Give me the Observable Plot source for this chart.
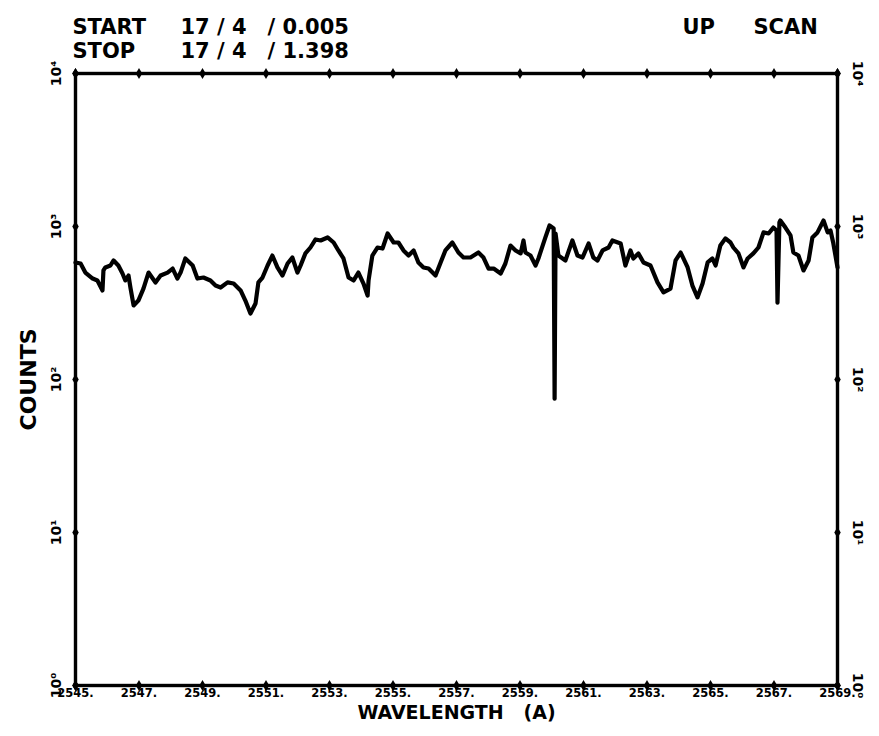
<!DOCTYPE html>
<html>
<head>
<meta charset="utf-8">
<script src="https://cdn.jsdelivr.net/npm/d3@7"></script>
<script src="https://cdn.jsdelivr.net/npm/@observablehq/plot@0.6"></script>
<style>
  html, body { margin: 0; padding: 0; background: #fff; }
  svg { font-family: "DejaVu Sans", sans-serif; }
</style>
</head>
<body>
<div id="chart"></div>
<script>
// Wavelength (Å) and counts
const wavelength = [
  2545.00, 2545.16, 2545.31, 2545.54, 2545.69, 2545.85, 2545.88, 2545.94, 2546.10, 2546.20,
  2546.35, 2546.48, 2546.57, 2546.67, 2546.73, 2546.83, 2546.98, 2547.14, 2547.30, 2547.52,
  2547.68, 2547.90, 2548.06, 2548.21, 2548.31, 2548.46, 2548.69, 2548.84, 2549.03, 2549.25,
  2549.41, 2549.57, 2549.79, 2549.98, 2550.20, 2550.35, 2550.51, 2550.67, 2550.76, 2550.89,
  2551.05, 2551.20, 2551.36, 2551.52, 2551.68, 2551.83, 2551.99, 2552.09, 2552.24, 2552.40,
  2552.56, 2552.72, 2552.94, 2553.13, 2553.28, 2553.44, 2553.60, 2553.76, 2553.91, 2554.07,
  2554.20, 2554.23, 2554.35, 2554.51, 2554.67, 2554.83, 2555.02, 2555.17, 2555.33, 2555.49,
  2555.65, 2555.80, 2555.96, 2556.12, 2556.34, 2556.50, 2556.65, 2556.87, 2557.06, 2557.22,
  2557.44, 2557.69, 2557.85, 2558.01, 2558.17, 2558.39, 2558.54, 2558.70, 2558.86, 2559.02,
  2559.11, 2559.17, 2559.33, 2559.49, 2559.58, 2559.80, 2559.93, 2560.06, 2560.09, 2560.12,
  2560.21, 2560.43, 2560.65, 2560.81, 2560.97, 2561.16, 2561.31, 2561.44, 2561.60, 2561.79,
  2561.91, 2562.17, 2562.32, 2562.48, 2562.57, 2562.73, 2562.89, 2563.11, 2563.33, 2563.52,
  2563.74, 2563.90, 2564.06, 2564.28, 2564.43, 2564.59, 2564.75, 2564.91, 2565.06, 2565.16,
  2565.31, 2565.47, 2565.63, 2565.72, 2565.88, 2566.04, 2566.17, 2566.35, 2566.51, 2566.67,
  2566.83, 2566.98, 2567.08, 2567.11, 2567.17, 2567.20, 2567.36, 2567.52, 2567.61, 2567.77,
  2567.93, 2568.09, 2568.21, 2568.37, 2568.56, 2568.69, 2568.78, 2568.87, 2569.00
];
const counts = [
  582, 573, 500, 457, 444, 382, 516, 540, 556, 600,
  556, 493, 444, 478, 399, 305, 328, 393, 500, 431,
  478, 500, 531, 457, 500, 618, 556, 457, 464, 444,
  411, 399, 431, 424, 382, 328, 270, 314, 431, 464,
  556, 646, 540, 478, 573, 627, 500, 556, 667, 729,
  823, 810, 848, 786, 697, 618, 464, 444, 500, 424,
  354, 444, 646, 729, 718, 900, 786, 786, 697, 646,
  697, 582, 540, 531, 478, 582, 697, 786, 676, 627,
  627, 676, 627, 531, 531, 493, 573, 751, 697, 667,
  810, 676, 646, 556, 618, 848, 1016, 970, 75, 900,
  646, 600, 810, 646, 627, 774, 627, 600, 697, 729,
  810, 774, 556, 697, 618, 667, 582, 556, 431, 371,
  393, 600, 676, 540, 411, 344, 424, 582, 618, 556,
  751, 836, 786, 729, 667, 540, 618, 667, 729, 915,
  900, 984, 941, 318, 1062, 1094, 984, 874, 676, 646,
  516, 600, 848, 915, 1094, 915, 941, 774, 540
];

const xTicks = [2545, 2547, 2549, 2551, 2553, 2555, 2557, 2559, 2561, 2563, 2565, 2567, 2569];
const xTickLabels = ["2545.", "2547.", "2549.", "2551.", "2553.", "2555.", "2557.", "2559.", "2561.", "2563.", "2565.", "2567.", "2569."];
const yTicks = [1, 10, 100, 1000, 10000];
const yTickLabels = ["10⁰", "10¹", "10²", "10³", "10⁴"];

const xDomain = [2545, 2569];
const yDomain = [1, 10000];

const data = wavelength.map((w, i) => ({w, c: counts[i]}));
const xt = xTicks.map((t, i) => ({t, label: xTickLabels[i]}));
const yt = yTicks.map((t, i) => ({t, label: yTickLabels[i]}));

const ff = "DejaVu Sans, sans-serif";
const hdr = {textAnchor: "start", fontSize: 21, fontWeight: "bold", fill: "#000"};

const chart = Plot.plot({
  width: 879,
  height: 736,
  marginLeft: 75,
  marginRight: 42,
  marginTop: 73,
  marginBottom: 51,
  style: {background: "#fff", color: "#000", fontFamily: ff},
  x: {domain: xDomain, axis: null},
  y: {type: "log", domain: yDomain, axis: null},
  marks: [
    Plot.frame({stroke: "#000", strokeWidth: 3.4}),
    // data trace
    Plot.line(data, {x: "w", y: "c", stroke: "#000", strokeWidth: 4.2, strokeLinejoin: "round", strokeLinecap: "round"}),
    // tick diamonds on all four sides
    Plot.dot(xTicks, {x: d => d, frameAnchor: "bottom", symbol: "diamond", r: 3.4, fill: "#000", stroke: null}),
    Plot.dot(xTicks, {x: d => d, frameAnchor: "top", symbol: "diamond", r: 3.4, fill: "#000", stroke: null}),
    Plot.dot(yTicks, {y: d => d, frameAnchor: "left", symbol: "diamond", r: 3.4, fill: "#000", stroke: null}),
    Plot.dot(yTicks, {y: d => d, frameAnchor: "right", symbol: "diamond", r: 3.4, fill: "#000", stroke: null}),
    // x tick labels
    Plot.text(xt, {x: "t", text: "label", frameAnchor: "bottom", dy: 11, textAnchor: "middle", fontSize: 11.5, fontWeight: "bold", fill: "#000"}),
    // y tick labels (left & right, rotated)
    Plot.text(yt, {y: "t", text: "label", frameAnchor: "left", dx: -19, rotate: -90, textAnchor: "middle", fontSize: 14, fontWeight: "bold", fill: "#000"}),
    Plot.text(yt, {y: "t", text: "label", frameAnchor: "right", dx: 20, rotate: 90, textAnchor: "middle", fontSize: 14, fontWeight: "bold", fill: "#000"}),
    // axis titles
    Plot.text(["WAVELENGTH   (A)"], {frameAnchor: "bottom", dy: 33, textAnchor: "middle", fontSize: 19, fontWeight: "bold", fill: "#000", style: "white-space: pre; letter-spacing: 1.5px"}),
    Plot.text(["COUNTS"], {frameAnchor: "left", dx: -47, rotate: -90, textAnchor: "middle", fontSize: 22, fontWeight: "bold", fill: "#000", style: "letter-spacing: 1px"}),
    // header
    Plot.text(["START"], {...hdr, frameAnchor: "top-left", dx: -3, dy: -54}),
    Plot.text(["17 / 4"], {...hdr, frameAnchor: "top-left", dx: 105, dy: -54}),
    Plot.text(["/ 0.005"], {...hdr, frameAnchor: "top-left", dx: 192, dy: -54, style: "letter-spacing: 2px"}),
    Plot.text(["STOP"], {...hdr, frameAnchor: "top-left", dx: -3, dy: -30}),
    Plot.text(["17 / 4"], {...hdr, frameAnchor: "top-left", dx: 105, dy: -30}),
    Plot.text(["/ 1.398"], {...hdr, frameAnchor: "top-left", dx: 192, dy: -30, style: "letter-spacing: 2px"}),
    Plot.text(["UP"], {...hdr, frameAnchor: "top-right", dx: -155, dy: -54}),
    Plot.text(["SCAN"], {...hdr, frameAnchor: "top-right", dx: -84, dy: -54})
  ]
});
document.getElementById("chart").appendChild(chart);
</script>
</body>
</html>
